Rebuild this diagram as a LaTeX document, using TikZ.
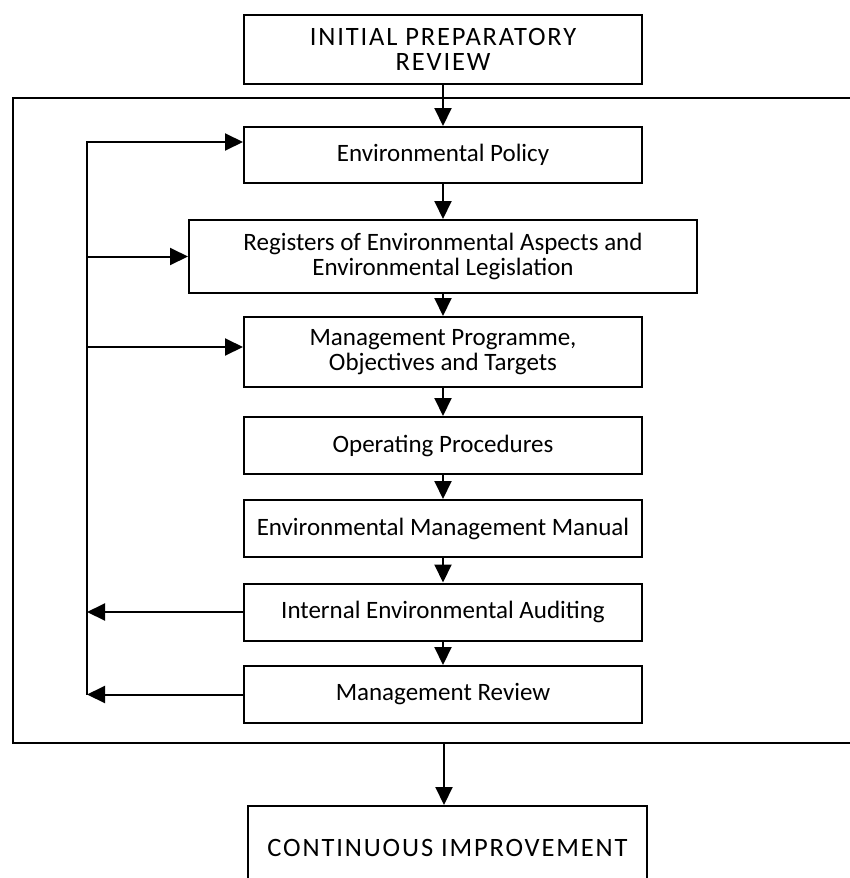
\documentclass[tikz,border=0pt]{standalone}
\usepackage{fontspec}
\setmainfont{Carlito}
\newfontfamily\capsfont[LetterSpace=7]{Carlito}
\usetikzlibrary{arrows.meta}

\begin{document}
\begin{tikzpicture}[x=1pt,y=1pt,
    font=\fontsize{25}{24.5}\selectfont,
    node distance=83pt,
    line/.style={draw, -{Triangle[length=18pt,width=17pt]}, line width=2pt},
    stage/.style={draw, line width=2pt, align=center, minimum width=398pt, minimum height=57pt, inner sep=0pt},
    capsstage/.style={stage, font=\fontsize{26.5}{24.5}\capsfont},
    ]
    \useasboundingbox (0,0) rectangle (850,-878);

    % Place nodes
    \node [capsstage, minimum height=69pt] (ipr) at (443,-49.5) {INITIAL PREPARATORY\\REVIEW};
    \node [stage, below of=ipr, yshift=-22.5pt, minimum height=56pt] (ep) {Environmental Policy};
    \node [stage, below of=ep, yshift=-18.5pt, minimum width=508pt, minimum height=73pt] (reg) {Registers of Environmental Aspects and\\Environmental Legislation};
    \node [stage, below of=reg, yshift=-12.5pt, minimum height=70pt] (mp) {Management Programme,\\Objectives and Targets};
    \node [stage, below of=mp, yshift=-10.5pt] (op) {Operating Procedures};
    \node [stage, below of=op] (emm) {Environmental Management Manual};
    \node [stage, below of=emm, yshift=-0.5pt] (iea) {Internal Environmental Auditing};
    \node [stage, below of=iea, yshift=0.5pt] (mr) {Management Review};
    \node [capsstage, below of=mr, yshift=-70.5pt, xshift=4.5pt, minimum width=399pt, minimum height=84pt] (ci) {CONTINUOUS IMPROVEMENT};

    % Frame round the cycle, open on the right
    \draw [line width=2pt] (860,-98) -- (13,-98) -- (13,-743) -- (860,-743);
    \coordinate (fbbot) at ([xshift=-156pt]mr.west);
    \coordinate (frameout) at (444,-743);

    % Draw edges
    \path [line] (ipr) -- (ep);
    \path [line] (ep) -- (reg);
    \path [line] (reg) -- (mp);
    \path [line] (mp) -- (op);
    \path [line] (op) -- (emm);
    \path [line] (emm) -- (iea);
    \path [line] (iea) -- (mr);
    \path [line] (frameout) -- (frameout |- ci.north);

    % Feedback loop
    \path [line] (fbbot) |- ([yshift=13pt]ep.west);
    \path [line] (fbbot |- reg.west) -- (reg.west);
    \path [line] ([yshift=5pt]fbbot |- mp.west) -- ([yshift=5pt]mp.west);
    \path [line] (iea.west) -- (fbbot |- iea.west);
    \path [line] (mr.west) -- (fbbot);
\end{tikzpicture}
\end{document}
